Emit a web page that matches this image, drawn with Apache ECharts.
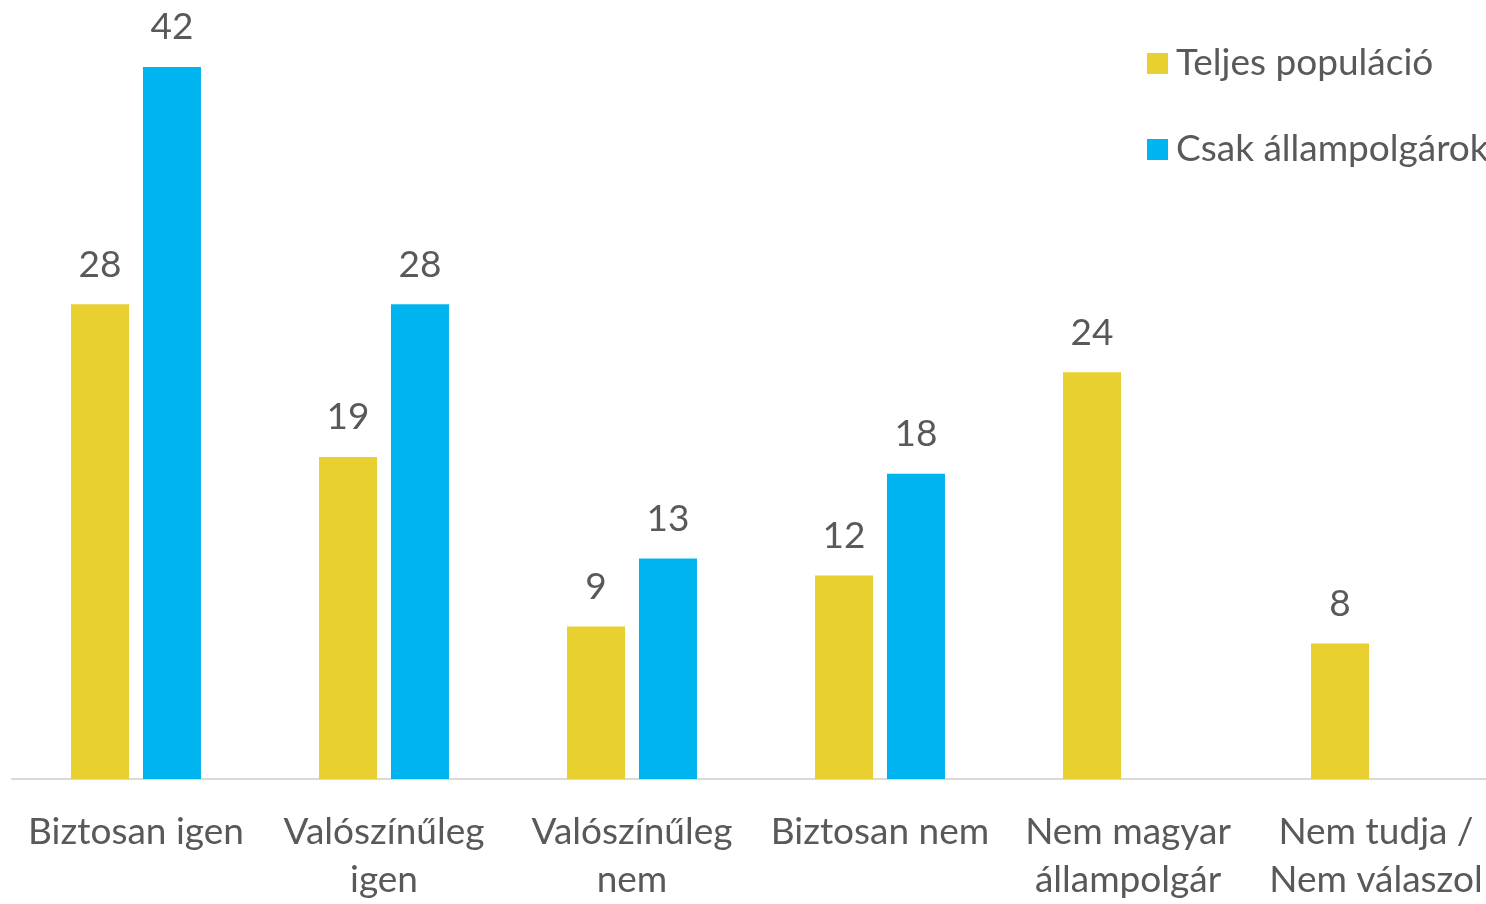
<!DOCTYPE html>
<html>
<head>
<meta charset="utf-8">
<script src="https://cdn.jsdelivr.net/npm/echarts@6/dist/echarts.min.js"></script>
<style>
  html, body { margin: 0; padding: 0; background: #fff; overflow: hidden; }
  #main { width: 1500px; height: 904px; }
</style>
</head>
<body>
<div id="main"></div>
<script>
// categories and values
var categories = ['Biztosan igen', 'Valószínűleg\nigen', 'Valószínűleg\nnem', 'Biztosan nem', 'Nem magyar\nállampolgár', 'Nem tudja /\nNem válaszol']
var teljes = [28, 19, 9, 12, 24, 8]
var allampolgarok = [42, 28, 13, 18, null, null]
var seriesNames = ['Teljes populáció', 'Csak állampolgárok']

var font = 'Lato, "Open Sans", sans-serif'
var textColor = '#595959'

var chart = echarts.init(document.getElementById('main'))

var labelStyle = { show: true, position: 'top', distance: 21, fontFamily: font, fontSize: 37, color: textColor }

var option = {
  animation: false,
  textStyle: { fontFamily: font },
  grid: { left: 12, right: 0, top: 67, bottom: 117, containLabel: false },
  legend: {
    orient: 'vertical',
    left: 1142,
    top: 40,
    itemWidth: 21,
    itemHeight: 21,
    itemGap: 49,
    icon: 'rect',
    textStyle: { fontFamily: font, fontSize: 37, color: textColor, padding: [0, 0, 0, 3] },
    data: seriesNames
  },
  xAxis: {
    type: 'category',
    data: categories,
    axisLine: { lineStyle: { color: '#d9d9d9', width: 2 } },
    axisTick: { show: false },
    axisLabel: {
      fontFamily: font,
      fontSize: 37,
      color: textColor,
      lineHeight: 48,
      margin: 29,
      interval: 0
    }
  },
  yAxis: {
    type: 'value',
    min: 0,
    max: 42,
    show: false,
    splitLine: { show: false }
  },
  series: [
    {
      name: seriesNames[0],
      type: 'bar',
      data: teljes,
      barWidth: 58,
      barGap: '24%',
      itemStyle: { color: '#E8D030' },
      label: labelStyle
    },
    {
      name: seriesNames[1],
      type: 'bar',
      data: allampolgarok,
      barWidth: 58,
      barGap: '24%',
      itemStyle: { color: '#00B4EF' },
      label: labelStyle
    }
  ]
}

chart.setOption(option)
</script>
</body>
</html>
